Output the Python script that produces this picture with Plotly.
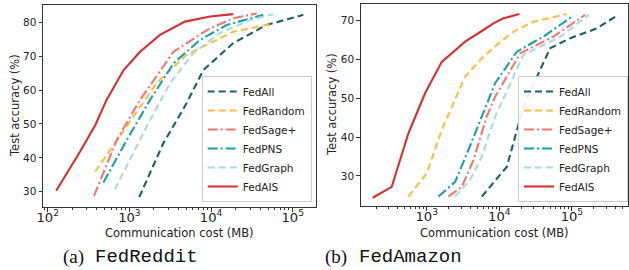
import plotly.graph_objects as go

methods = ["FedAll", "FedRandom", "FedSage+", "FedPNS", "FedGraph", "FedAIS"]
colors = ["#1c5f66", "#fdbb48", "#f4776e", "#1aa0a8", "#a8dadf", "#d62f2f"]
dashes = ["7px,4px", "7px,4px", "10px,3px,2px,3px", "10px,3px,2px,3px", "7px,4px", "solid"]

# FedReddit: communication cost (MB) and test accuracy (%)
reddit_cost = {
    "FedAll":    [1320, 2600, 5010, 8030, 18600, 47600, 135000],
    "FedRandom": [381, 1120, 2150, 5010, 18600, 55000],
    "FedSage+":  [369, 700, 1350, 3470, 8900, 18600, 36300],
    "FedPNS":    [480, 930, 1790, 3470, 7330, 15500, 43600],
    "FedGraph":  [664, 1120, 1790, 3150, 6050, 12800, 30200, 57500],
    "FedAIS":    [127, 248, 383, 525, 850, 1350, 2370, 4790, 9770, 18700],
}
reddit_acc = {
    "FedAll":    [28.4, 44.3, 56.1, 65.9, 73.8, 79.2, 82.2],
    "FedRandom": [35.9, 52.2, 62.0, 70.4, 77.2, 79.5],
    "FedSage+":  [28.8, 45.3, 57.1, 71.3, 77.7, 81.2, 82.6],
    "FedPNS":    [32.7, 45.3, 57.1, 67.9, 74.8, 79.2, 82.2],
    "FedGraph":  [30.7, 41.4, 51.2, 62.0, 70.9, 76.8, 80.7, 82.4],
    "FedAIS":    [30.3, 41.8, 49.7, 57.1, 65.9, 71.3, 76.3, 80.2, 81.7, 82.4],
}

# FedAmazon
amazon_cost = {
    "FedAll":    [5740, 12700, 21500, 32900, 50000, 95000, 219000, 434000],
    "FedRandom": [559, 1000, 1610, 2460, 3380, 5740, 9800, 15700, 29500, 85000],
    "FedSage+":  [1990, 3040, 4400, 6700, 8750, 19400, 55700, 152000],
    "FedPNS":    [1450, 2460, 3750, 5740, 8750, 17400, 40400, 105000],
    "FedGraph":  [2460, 3950, 5740, 8750, 21500, 69500, 170000],
    "FedAIS":    [180, 329, 559, 948, 1610, 3380, 6030, 8300, 11400, 18900],
}
amazon_acc = {
    "FedAll":    [24.7, 32.4, 47.9, 55.6, 62.9, 65.5, 68.0, 71.5],
    "FedRandom": [24.7, 30.7, 41.9, 49.6, 55.6, 60.3, 64.2, 67.2, 69.7, 71.7],
    "FedSage+":  [24.7, 27.2, 34.1, 45.3, 50.4, 61.6, 65.9, 71.5],
    "FedPNS":    [24.7, 28.5, 36.7, 45.3, 53.9, 62.0, 65.9, 71.3],
    "FedGraph":  [24.7, 29.0, 35.0, 45.3, 61.2, 65.9, 71.5],
    "FedAIS":    [24.4, 27.2, 41.0, 51.3, 59.4, 64.6, 67.6, 69.3, 70.6, 71.7],
}

reddit_yticks = [30, 40, 50, 60, 70, 80]
amazon_yticks = [30, 40, 50, 60, 70]

FONT = "DejaVu Sans"
W, H = 629, 270
fig = go.Figure()

for i, m in enumerate(methods):
    fig.add_trace(go.Scatter(x=reddit_cost[m], y=reddit_acc[m], mode="lines", name=m,
                             line=dict(color=colors[i], width=2.1, dash=dashes[i]),
                             xaxis="x", yaxis="y", legend="legend"))
for i, m in enumerate(methods):
    fig.add_trace(go.Scatter(x=amazon_cost[m], y=amazon_acc[m], mode="lines", name=m,
                             line=dict(color=colors[i], width=2.1, dash=dashes[i]),
                             xaxis="x2", yaxis="y2", legend="legend2"))

axis_common = dict(showline=True, mirror=True, linecolor="#333", linewidth=1,
                   ticks="outside", ticklen=3.5, tickcolor="#333", showgrid=False,
                   zeroline=False, automargin=False,
                   tickfont=dict(family=FONT, size=10.5, color="#222"))
xlog = dict(type="log", dtick=1, exponentformat="power", ticklabelstandoff=-5,
            minor=dict(ticks="outside", ticklen=2, tickcolor="#333", showgrid=False))

leg_common = dict(xanchor="right", yanchor="bottom",
                  bgcolor="rgba(255,255,255,0.9)", bordercolor="#ccc", borderwidth=1,
                  font=dict(family=FONT, size=10.5, color="#222"), tracegroupgap=0,
                  itemwidth=30)

fig.update_layout(
    width=W, height=H, margin=dict(l=0, r=0, t=0, b=0, autoexpand=False),
    paper_bgcolor="white", plot_bgcolor="white",
    xaxis=dict(domain=[43 / W, 316 / W], range=[1.942, 5.285], anchor="y", **xlog, **axis_common),
    yaxis=dict(domain=[1 - 207 / H, 1 - 5 / H], range=[25.5, 85.1], tickvals=reddit_yticks, anchor="x",
               **axis_common),
    xaxis2=dict(domain=[360.7 / W, 628.3 / W], range=[2.09, 5.777], anchor="y2", **xlog, **axis_common),
    yaxis2=dict(domain=[1 - 206 / H, 1 - 4.3 / H], range=[22.27, 74.22], tickvals=amazon_yticks, anchor="x2",
                **axis_common),
    legend=dict(x=311.7 / W, y=1 - 202 / H, **leg_common),
    legend2=dict(x=628 / W, y=1 - 202 / H, **leg_common),
    showlegend=True,
)

title_font = dict(family=FONT, size=11.5, color="#222")
for xc, txt in [(179.5, "Communication cost (MB)"), (494.5, "Communication cost (MB)")]:
    fig.add_annotation(text=txt, x=xc / W, y=1 - 232.5 / H, xref="paper", yref="paper", showarrow=False,
                       xanchor="center", yanchor="middle", font=title_font)
for xc, yc in [(15, 106), (332, 105)]:
    fig.add_annotation(text="Test accuracy (%)", x=xc / W, y=1 - yc / H, xref="paper", yref="paper",
                       showarrow=False, textangle=-90, xanchor="center", yanchor="middle", font=title_font)

cap_y = 1 - 256.5 / H
cap_serif = dict(family="Liberation Serif", size=19, color="#111")
cap_mono = dict(family="Liberation Mono", size=19, color="#111")
fig.add_annotation(text="(a)", x=73 / W, y=cap_y, xref="paper", yref="paper", showarrow=False,
                   xanchor="center", yanchor="middle", font=cap_serif)
fig.add_annotation(text="FedReddit", x=146.5 / W, y=cap_y, xref="paper", yref="paper", showarrow=False,
                   xanchor="center", yanchor="middle", font=cap_mono)
fig.add_annotation(text="(b)", x=336 / W, y=cap_y, xref="paper", yref="paper", showarrow=False,
                   xanchor="center", yanchor="middle", font=cap_serif)
fig.add_annotation(text="FedAmazon", x=410.5 / W, y=cap_y, xref="paper", yref="paper", showarrow=False,
                   xanchor="center", yanchor="middle", font=cap_mono)

fig.write_html("out.html", config={"displayModeBar": False},
               post_script="document.body.style.margin='0';document.body.style.overflow='hidden';")
